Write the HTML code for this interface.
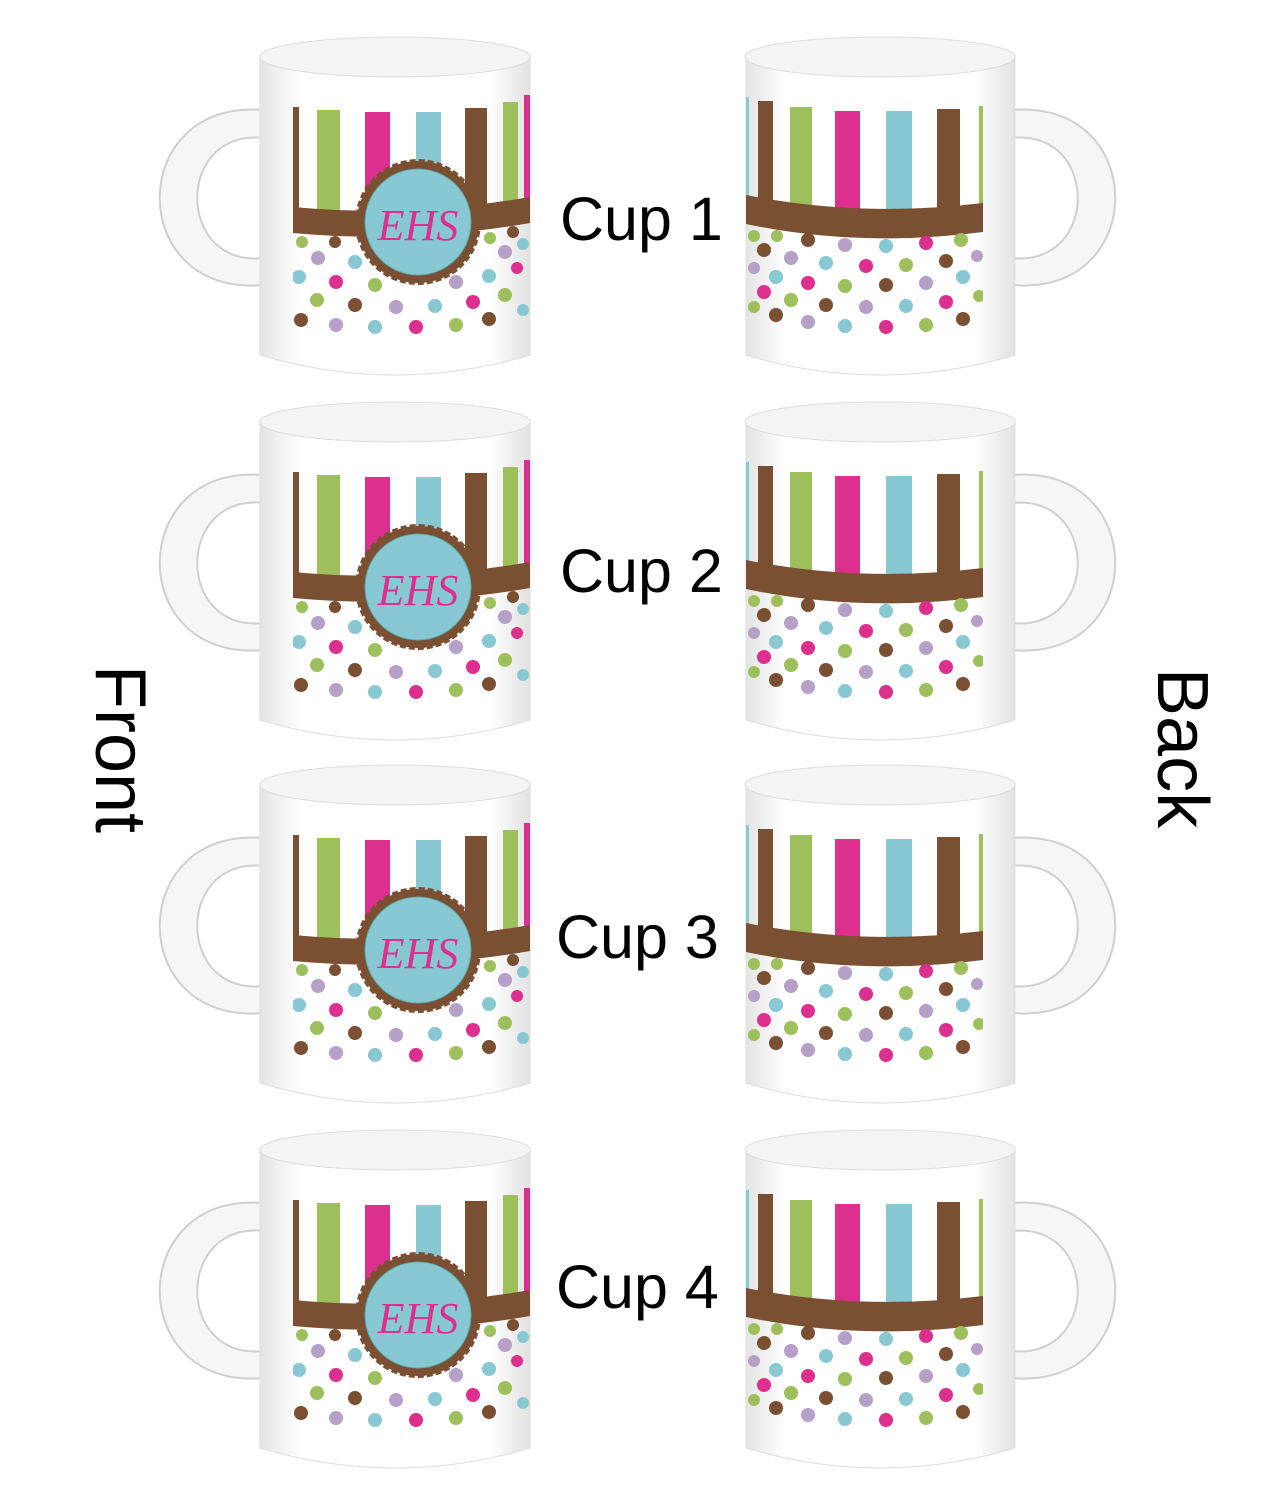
<!DOCTYPE html>
<html><head><style>body{margin:0;background:#fff}svg{display:block}</style></head><body>
<svg width="1275" height="1500" viewBox="0 0 1275 1500" xmlns="http://www.w3.org/2000/svg" font-family="Liberation Sans, sans-serif">
<defs>
<linearGradient id="bg" x1="0" x2="1"><stop offset="0" stop-color="#e4e4e4"/><stop offset="0.15" stop-color="#fff"/><stop offset="0.85" stop-color="#fff"/><stop offset="1" stop-color="#e2e2e2"/></linearGradient>
<clipPath id="fc"><rect x="293" y="90" width="237" height="255"/></clipPath>
<clipPath id="bc"><rect x="746" y="90" width="237" height="255"/></clipPath>
<g id="front">
 <path d="M264 110 C125 98 125 298 264 285 L264 258 C175 268 175 128 264 138 Z" fill="#f6f6f6" stroke="#cfcfcf" stroke-width="2"/>
 <path d="M260 55 Q395 25 530 55 L530 355 Q395 395 260 355 Z" fill="url(#bg)" stroke="#ddd"/>
 <ellipse cx="395" cy="57" rx="135" ry="20" fill="#f4f4f4" stroke="#ddd"/>
 <g clip-path="url(#fc)">
  <rect x="293" y="107" width="6" height="110" fill="#7a4f32"/>
  <rect x="317" y="110" width="23" height="105" fill="#9dc05d"/>
  <rect x="365" y="112" width="25" height="105" fill="#dd2f8e"/>
  <rect x="416" y="112" width="25" height="105" fill="#88c8d2"/>
  <rect x="465" y="108" width="22" height="108" fill="#7a4f32"/>
  <rect x="503" y="102" width="15" height="112" fill="#9dc05d"/>
  <rect x="524" y="95" width="8" height="115" fill="#dd2f8e"/>
  <path d="M293 207 Q410 218 530 197 L530 223 Q410 244 293 233 Z" fill="#7a4f32"/>
  <g>
   <circle cx="302" cy="242" r="6" fill="#9dc05d"/><circle cx="335" cy="242" r="6" fill="#7a4f32"/><circle cx="490" cy="238" r="6" fill="#9dc05d"/><circle cx="513" cy="232" r="6" fill="#7a4f32"/>
   <circle cx="318" cy="258" r="7" fill="#b5a0c8"/><circle cx="355" cy="262" r="7" fill="#88c8d2"/><circle cx="505" cy="252" r="7" fill="#b5a0c8"/><circle cx="523" cy="244" r="6" fill="#88c8d2"/>
   <circle cx="299" cy="277" r="7" fill="#88c8d2"/><circle cx="336" cy="282" r="7" fill="#dd2f8e"/><circle cx="375" cy="285" r="7" fill="#9dc05d"/><circle cx="456" cy="282" r="7" fill="#b5a0c8"/><circle cx="489" cy="276" r="7" fill="#88c8d2"/><circle cx="517" cy="268" r="6" fill="#dd2f8e"/>
   <circle cx="317" cy="300" r="7" fill="#9dc05d"/><circle cx="355" cy="305" r="7" fill="#7a4f32"/><circle cx="396" cy="307" r="7" fill="#b5a0c8"/><circle cx="435" cy="306" r="7" fill="#88c8d2"/><circle cx="473" cy="302" r="7" fill="#dd2f8e"/><circle cx="505" cy="295" r="7" fill="#9dc05d"/>
   <circle cx="301" cy="320" r="7" fill="#7a4f32"/><circle cx="336" cy="325" r="7" fill="#b5a0c8"/><circle cx="375" cy="327" r="7" fill="#88c8d2"/><circle cx="416" cy="327" r="7" fill="#dd2f8e"/><circle cx="456" cy="325" r="7" fill="#9dc05d"/><circle cx="489" cy="319" r="7" fill="#7a4f32"/><circle cx="523" cy="310" r="6" fill="#88c8d2"/>
  </g>
 </g>
 <circle cx="418" cy="222" r="61" fill="#7a4f32" stroke="#7a4f32" stroke-width="4" stroke-dasharray="6 3"/>
 <circle cx="418" cy="222" r="53" fill="#88c8d2" stroke="#5aa" stroke-width="1"/>
 <text x="418" y="240" text-anchor="middle" font-family="Liberation Serif, serif" font-style="italic" font-size="44" fill="#dd2f8e">EHS</text>
</g>
<g id="back">
 <path d="M1011 110 C1150 98 1150 298 1011 285 L1011 258 C1100 268 1100 128 1011 138 Z" fill="#f6f6f6" stroke="#cfcfcf" stroke-width="2"/>
 <path d="M746 55 Q880 25 1015 55 L1015 355 Q880 395 746 355 Z" fill="url(#bg)" stroke="#ddd"/>
 <ellipse cx="880" cy="57" rx="135" ry="20" fill="#f4f4f4" stroke="#ddd"/>
 <g clip-path="url(#bc)">
  <rect x="746" y="97" width="3" height="105" fill="#88c8d2"/>
  <rect x="758" y="101" width="15" height="110" fill="#7a4f32"/>
  <rect x="790" y="107" width="22" height="105" fill="#9dc05d"/>
  <rect x="835" y="111" width="25" height="105" fill="#dd2f8e"/>
  <rect x="886" y="111" width="26" height="105" fill="#88c8d2"/>
  <rect x="937" y="109" width="23" height="105" fill="#7a4f32"/>
  <rect x="979" y="106" width="4" height="105" fill="#9dc05d"/>
  <path d="M746 195 Q860 218 983 203 L983 232 Q860 248 746 224 Z" fill="#7a4f32"/>
  <g>
   <circle cx="754" cy="236" r="6" fill="#9dc05d"/><circle cx="777" cy="236" r="6" fill="#9dc05d"/><circle cx="808" cy="240" r="7" fill="#7a4f32"/><circle cx="845" cy="245" r="7" fill="#b5a0c8"/><circle cx="886" cy="246" r="7" fill="#88c8d2"/><circle cx="926" cy="243" r="7" fill="#dd2f8e"/><circle cx="961" cy="240" r="7" fill="#9dc05d"/>
   <circle cx="764" cy="250" r="7" fill="#7a4f32"/><circle cx="791" cy="258" r="7" fill="#b5a0c8"/><circle cx="826" cy="263" r="7" fill="#88c8d2"/><circle cx="866" cy="266" r="7" fill="#dd2f8e"/><circle cx="906" cy="265" r="7" fill="#9dc05d"/><circle cx="946" cy="261" r="7" fill="#7a4f32"/><circle cx="977" cy="256" r="6" fill="#b5a0c8"/>
   <circle cx="754" cy="268" r="6" fill="#b5a0c8"/><circle cx="776" cy="277" r="7" fill="#88c8d2"/><circle cx="808" cy="283" r="7" fill="#dd2f8e"/><circle cx="845" cy="286" r="7" fill="#9dc05d"/><circle cx="886" cy="285" r="7" fill="#7a4f32"/><circle cx="926" cy="283" r="7" fill="#b5a0c8"/><circle cx="963" cy="277" r="7" fill="#88c8d2"/>
   <circle cx="764" cy="292" r="7" fill="#dd2f8e"/><circle cx="791" cy="300" r="7" fill="#9dc05d"/><circle cx="826" cy="305" r="7" fill="#7a4f32"/><circle cx="866" cy="307" r="7" fill="#b5a0c8"/><circle cx="906" cy="306" r="7" fill="#88c8d2"/><circle cx="946" cy="302" r="7" fill="#dd2f8e"/><circle cx="979" cy="296" r="6" fill="#9dc05d"/>
   <circle cx="754" cy="307" r="6" fill="#9dc05d"/><circle cx="776" cy="315" r="7" fill="#7a4f32"/><circle cx="808" cy="322" r="7" fill="#b5a0c8"/><circle cx="845" cy="326" r="7" fill="#88c8d2"/><circle cx="886" cy="327" r="7" fill="#dd2f8e"/><circle cx="926" cy="325" r="7" fill="#9dc05d"/><circle cx="963" cy="319" r="7" fill="#7a4f32"/>
  </g>
 </g>
</g>
</defs>
<use href="#front"/><use href="#back"/>
<use href="#front" y="365"/><use href="#back" y="365"/>
<use href="#front" y="728"/><use href="#back" y="728"/>
<use href="#front" y="1093"/><use href="#back" y="1093"/>
<g font-size="61" fill="#000">
 <text x="560" y="240">Cup 1</text>
 <text x="560" y="592">Cup 2</text>
 <text x="556" y="958">Cup 3</text>
 <text x="556" y="1308">Cup 4</text>
</g>
<text font-size="72" transform="translate(96,665) rotate(90)">Front</text>
<text font-size="72" transform="translate(1158,668) rotate(90)">Back</text>
</svg>
</body></html>
